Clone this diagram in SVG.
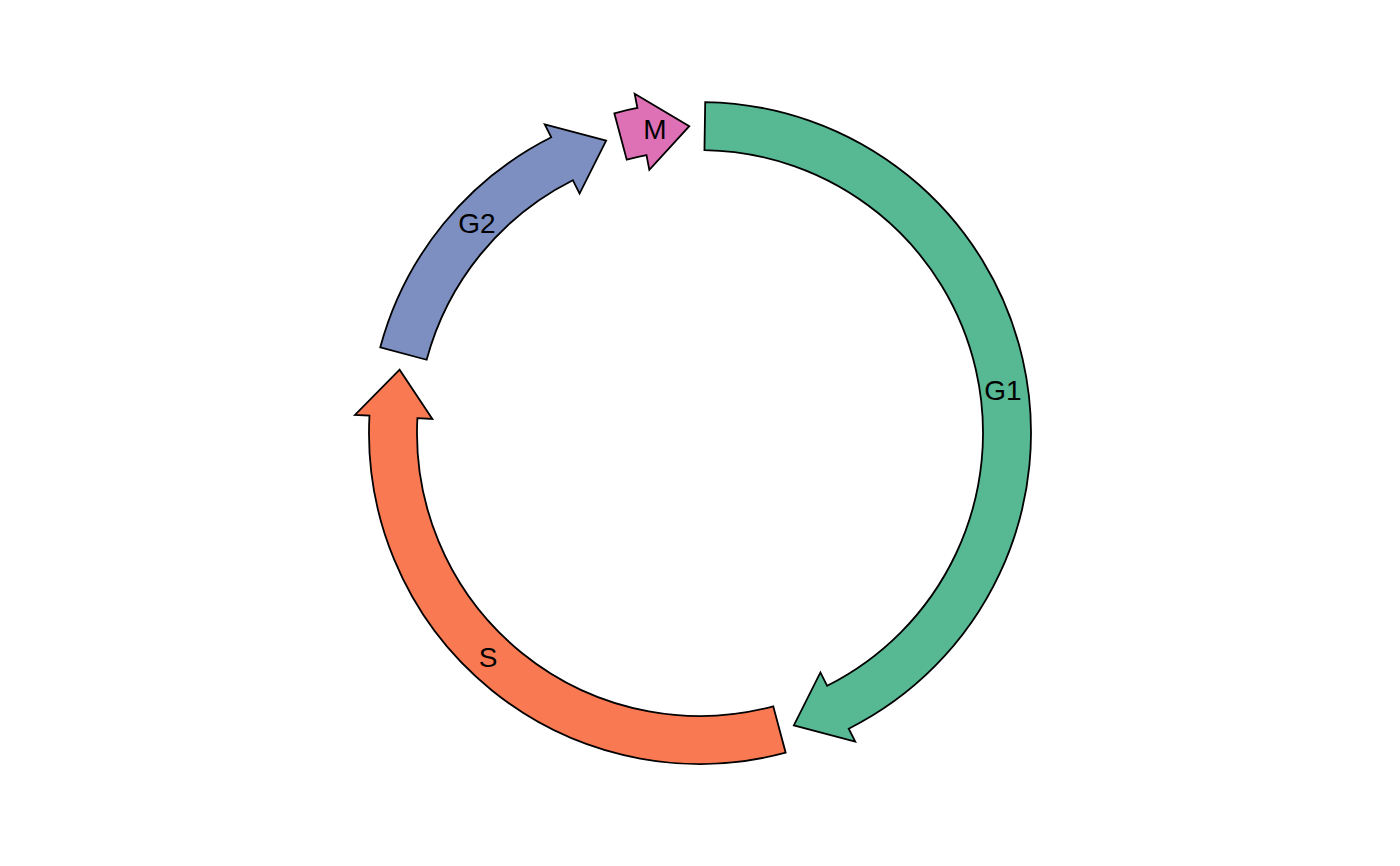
<svg xmlns="http://www.w3.org/2000/svg" width="1400" height="866" viewBox="0 0 1400 866">
<style>
.arc{stroke:#000;stroke-width:1.8;stroke-linejoin:miter}
.lbl{font-family:"Liberation Sans",Arial,sans-serif;font-size:28px;fill:#000;text-anchor:middle;dominant-baseline:central}
</style>
<rect width="1400" height="866" fill="#fff"/>
<g id="G1">
<path class="arc" fill="#57B894" d="M705.2,102.04 A331,331 0 0 1 848.72,728.71 L855.24,741.66 L793.85,725.30 L820.42,672.42 L827.16,685.82 A283,283 0 0 0 704.45,150.03 Z"/>
<text class="lbl" x="1003" y="390">G1</text>
</g>
<g id="S">
<path class="arc" fill="#F97A52" d="M785.67,752.72 A331,331 0 0 1 369.45,415.68 L354.97,414.92 L399.60,369.70 L432.37,418.97 L417.39,418.19 A283,283 0 0 0 773.25,706.36 Z"/>
<text class="lbl" x="488" y="657">S</text>
</g>
<g id="G2">
<path class="arc" fill="#7D8EC0" d="M380.28,347.33 A331,331 0 0 1 551.28,137.29 L544.76,124.34 L606.15,140.70 L579.58,193.58 L572.84,180.18 A283,283 0 0 0 426.64,359.75 Z"/>
<text class="lbl" x="477" y="223">G2</text>
</g>
<g id="M">
<path class="arc" fill="#DE70B6" d="M614.33,113.28 A331,331 0 0 1 637.41,107.97 L634.67,93.73 L689.29,126.19 L649.32,169.83 L646.48,155.11 A283,283 0 0 0 626.75,159.64 Z"/>
<text class="lbl" x="655" y="129">M</text>
</g>
<g id="connectors"></g>
</svg>
